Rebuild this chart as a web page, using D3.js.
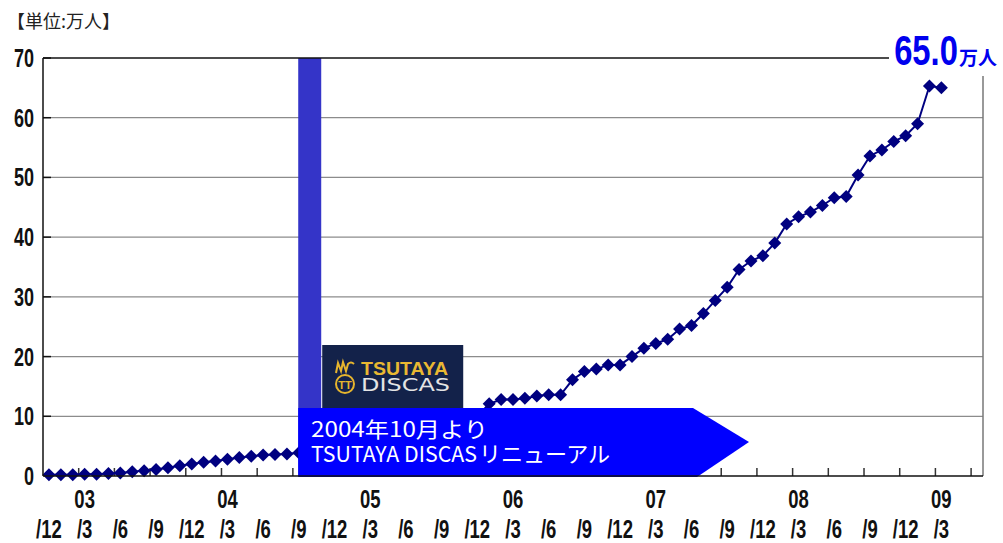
<!DOCTYPE html>
<html>
<head>
<meta charset="utf-8">
<script src="https://cdn.jsdelivr.net/npm/d3@7"></script>
<style>
  body { margin: 0; background: #fff; }
  svg { display: block; }
</style>
</head>
<body>
<script>
// months Dec 2002 .. Jun 2009 (category axis, one band per month)
var categories = [];
for (var yy = 2002, mm = 12; categories.length < 79; mm++) {
  if (mm > 12) { mm = 1; yy++; }
  categories.push(yy + "-" + (mm < 10 ? "0" + mm : mm));
}

// members (万人), Dec 2002 .. Mar 2009 (Oct 04 - Dec 05 sit under the arrow)
var members = [
  0.2, 0.2, 0.2, 0.3, 0.3, 0.4, 0.5, 0.7, 0.9, 1.1, 1.4,
  1.7, 2.0, 2.3, 2.5, 2.8, 3.1, 3.3, 3.5, 3.6, 3.7, 3.9,
  4.2, 4.6, 5.0, 5.4, 5.8, 6.2, 6.6, 7.0, 7.4, 7.8, 8.3, 8.7, 9.1, 9.5,
  10.0,
  12.1, 12.8, 12.8, 13.0, 13.4, 13.6, 13.6, 16.1, 17.5, 17.9, 18.6, 18.6,
  20.0, 21.4, 22.2, 22.9, 24.6,
  25.2, 27.2, 29.4, 31.6, 34.6, 36.0, 36.9,
  39.0, 42.2, 43.4, 44.2, 45.3, 46.6, 46.8, 50.4, 53.6, 54.6, 56.0, 57.0,
  59.0, 65.3, 65.0
];

var yTicks = [0, 10, 20, 30, 40, 50, 60, 70];
var quarterLabels = ["/12", "/3", "/6", "/9", "/12", "/3", "/6", "/9", "/12",
  "/3", "/6", "/9", "/12", "/3", "/6", "/9", "/12", "/3", "/6", "/9", "/12",
  "/3", "/6", "/9", "/12", "/3"];
var yearLabels = ["03", "04", "05", "06", "07", "08", "09"];
var renewalMonth = "2004-10";
var lastValueLabel = "65.0";

var W = 1003, H = 543;
var plotL = 43, plotR = 983, plotT = 58, plotB = 476;
var navy = "#000080";
var numFont = "'Liberation Sans', Arial, sans-serif";
var jpFont = "'Noto Sans CJK JP', sans-serif";

var svg = d3.select("body").append("svg")
  .attr("width", W)
  .attr("height", H);

svg.append("rect").attr("width", W).attr("height", H).attr("fill", "#fff");

var x = d3.scaleBand().domain(categories).range([plotL, plotR]).padding(0);
var y = d3.scaleLinear().domain([0, 70]).range([plotB, plotT]);
var xc = function(c) { return x(c) + x.bandwidth() / 2; };

// condensed text helper (squeeze glyphs horizontally)
function narrowText(parent, px, py, str, size, sx, anchor, fill) {
  return parent.append("g")
    .attr("transform", "translate(" + px + "," + py + ") scale(" + sx + ",1)")
    .append("text")
    .attr("text-anchor", anchor)
    .attr("font-family", numFont)
    .attr("font-weight", "bold")
    .attr("font-size", size)
    .attr("fill", fill || "#111")
    .text(str);
}

// gridlines
svg.append("g").selectAll("line")
  .data(yTicks.filter(function(d) { return d > 0 && d < 70; }))
  .enter().append("line")
  .attr("x1", plotL).attr("x2", plotR)
  .attr("y1", function(d) { return y(d); })
  .attr("y2", function(d) { return y(d); })
  .attr("stroke", "#8c8c8c").attr("stroke-width", 1.2);

// y ticks (inside)
svg.append("g").selectAll("line")
  .data(yTicks.filter(function(d) { return d > 0; }))
  .enter().append("line")
  .attr("x1", plotL).attr("x2", plotL + 8)
  .attr("y1", function(d) { return y(d); })
  .attr("y2", function(d) { return y(d); })
  .attr("stroke", "#111").attr("stroke-width", 1.5);

// x ticks at band boundaries every 3 months
var tickCats = categories.filter(function(d, i) { return i > 0 && i % 3 === 0; });
svg.append("g").selectAll("line")
  .data(tickCats)
  .enter().append("line")
  .attr("x1", function(d) { return x(d); })
  .attr("x2", function(d) { return x(d); })
  .attr("y1", plotB - 8).attr("y2", plotB)
  .attr("stroke", "#333").attr("stroke-width", 1.5);

// renewal bar
var barX = xc(renewalMonth) - 12.5;
svg.append("rect")
  .attr("x", barX).attr("y", plotT)
  .attr("width", 23).attr("height", plotB - plotT)
  .attr("fill", "#3434c8");

// data line + diamonds
var pts = members.map(function(v, i) { return [xc(categories[i]), y(v)]; });
svg.append("path")
  .datum(pts)
  .attr("d", d3.line())
  .attr("fill", "none")
  .attr("stroke", navy)
  .attr("stroke-width", 2);

svg.append("g").selectAll("path")
  .data(pts)
  .enter().append("path")
  .attr("d", "M0,-6.5L6.5,0L0,6.5L-6.5,0Z")
  .attr("transform", function(d) { return "translate(" + d[0] + "," + d[1] + ")"; })
  .attr("fill", navy);

// logo box
var logo = svg.append("g");
logo.append("rect")
  .attr("x", barX + 24).attr("y", 345)
  .attr("width", 141).attr("height", 75)
  .attr("fill", "#13224a");
logo.append("path")
  .attr("d", "M336,373 l2,-10 l3,8 l2,-9 l3,9 l2,-7 q3,-3 6,0")
  .attr("fill", "none").attr("stroke", "#e6b52e").attr("stroke-width", 2);
logo.append("circle")
  .attr("cx", 345).attr("cy", 384).attr("r", 9)
  .attr("fill", "none").attr("stroke", "#e6b52e").attr("stroke-width", 2);
logo.append("text")
  .attr("x", 345).attr("y", 388.5)
  .attr("text-anchor", "middle")
  .attr("font-family", numFont).attr("font-weight", "bold")
  .attr("font-size", 11).attr("fill", "#e6b52e")
  .text("TT");
logo.append("text")
  .attr("x", 361).attr("y", 375)
  .attr("textLength", 87).attr("lengthAdjust", "spacingAndGlyphs")
  .attr("font-family", numFont).attr("font-weight", "bold")
  .attr("font-size", 18).attr("fill", "#e9b832")
  .text("TSUTAYA");
logo.append("text")
  .attr("x", 361).attr("y", 391)
  .attr("textLength", 89).attr("lengthAdjust", "spacingAndGlyphs")
  .attr("font-family", "'DejaVu Sans', sans-serif")
  .attr("font-size", 17).attr("fill", "#e4e4e4")
  .text("DISCAS");

// arrow annotation
var ar = svg.append("g");
ar.append("path")
  .attr("d", "M" + barX + ",408L693,408L749,442L697,477L" + barX + ",477Z")
  .attr("fill", "#0000ff");
ar.append("text")
  .attr("x", 311).attr("y", 437)
  .attr("textLength", 177).attr("lengthAdjust", "spacingAndGlyphs")
  .attr("font-family", jpFont).attr("font-size", 21).attr("fill", "#fff")
  .text("2004年10月より");
ar.append("text")
  .attr("x", 311).attr("y", 462)
  .attr("textLength", 166).attr("lengthAdjust", "spacingAndGlyphs")
  .attr("font-family", jpFont).attr("font-size", 22).attr("fill", "#fff")
  .text("TSUTAYA DISCAS");
ar.append("text")
  .attr("x", 479).attr("y", 462)
  .attr("textLength", 131).attr("lengthAdjust", "spacingAndGlyphs")
  .attr("font-family", jpFont).attr("font-size", 22).attr("fill", "#fff")
  .text("リニューアル");

// plot frame
svg.append("line").attr("x1", plotR).attr("x2", plotR).attr("y1", plotT).attr("y2", plotB)
  .attr("stroke", "#777").attr("stroke-width", 1.5);
svg.append("line").attr("x1", plotL).attr("x2", plotR).attr("y1", plotT).attr("y2", plotT)
  .attr("stroke", "#111").attr("stroke-width", 1.5);
svg.append("line").attr("x1", plotL).attr("x2", plotL).attr("y1", plotT).attr("y2", plotB)
  .attr("stroke", "#111").attr("stroke-width", 1.5);
svg.append("line").attr("x1", plotL).attr("x2", plotR).attr("y1", plotB).attr("y2", plotB)
  .attr("stroke", "#111").attr("stroke-width", 1.5);

// y labels
yTicks.forEach(function(t) {
  narrowText(svg, 34, y(t) + 9, String(t), 25, 0.72, "end");
});

// x labels
quarterLabels.forEach(function(lab, i) {
  narrowText(svg, xc(categories[i * 3]), 538, lab, 25, 0.74, "middle");
});
yearLabels.forEach(function(lab, i) {
  narrowText(svg, xc(categories[3 + i * 12]), 508, lab, 25, 0.74, "middle");
});

// unit label
svg.append("text")
  .attr("x", 7).attr("y", 28)
  .attr("font-family", jpFont).attr("font-size", 18).attr("fill", "#222")
  .text("【単位:万人】");

// last value callout
svg.append("rect")
  .attr("x", 889).attr("y", 26).attr("width", 114).attr("height", 50)
  .attr("fill", "#fff");
narrowText(svg, 926, 65, lastValueLabel, 42, 0.78, "middle", "#0000ee");
svg.append("text")
  .attr("x", 959).attr("y", 65)
  .attr("font-family", jpFont).attr("font-weight", "bold")
  .attr("font-size", 19).attr("fill", "#0000ee")
  .text("万人");
</script>
</body>
</html>
